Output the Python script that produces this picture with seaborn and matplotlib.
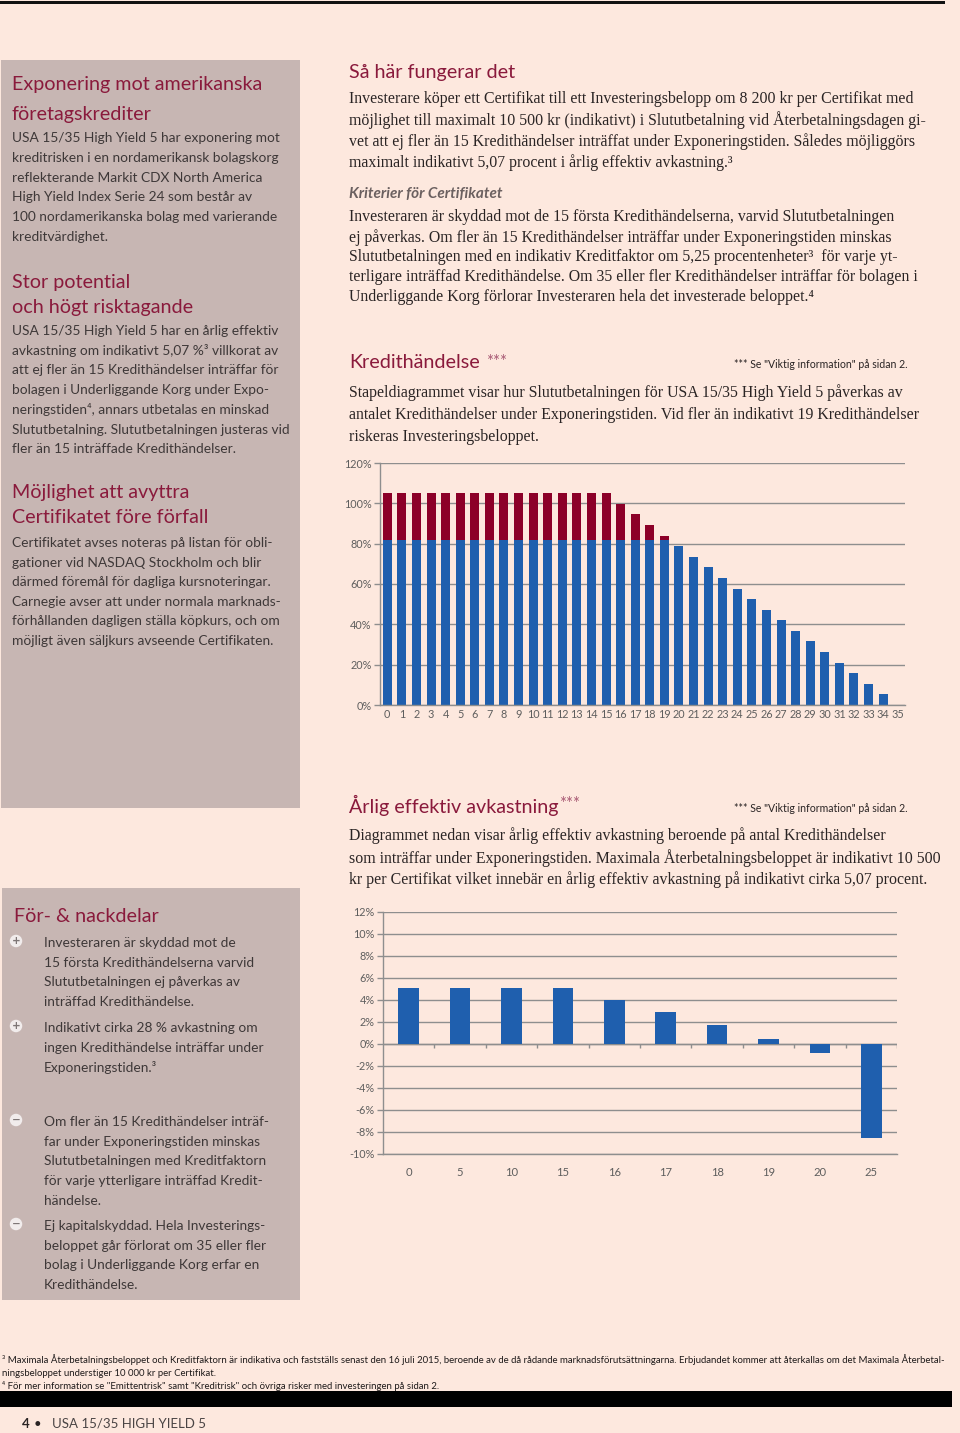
import numpy as np
import pandas as pd
import matplotlib
matplotlib.use("Agg")
import matplotlib.pyplot as plt
import seaborn as sns
from matplotlib.patches import Rectangle

# ---------------- data ----------------
events = ["0", "1", "2", "3", "4", "5", "6", "7", "8", "9", "10", "11", "12",
          "13", "14", "15", "16", "17", "18", "19", "20", "21", "22", "23", "24",
          "25", "26", "27", "28", "29", "30", "31", "32", "33", "34", "35"]
invested_part = [82, 82, 82, 82, 82, 82, 82, 82, 82, 82, 82, 82, 82, 82, 82, 82,
                 82, 82, 82, 82, 78.75, 73.5, 68.25, 63, 57.75, 52.5, 47.25, 42,
                 36.75, 31.5, 26.25, 21, 15.75, 10.5, 5.25, 0]
return_part = [23, 23, 23, 23, 23, 23, 23, 23, 23, 23, 23, 23, 23, 23, 23, 23,
               17.75, 12.5, 7.25, 2, 0, 0, 0, 0, 0, 0, 0, 0, 0, 0, 0, 0, 0, 0, 0, 0]
y1_ticks = [0, 20, 40, 60, 80, 100, 120]

ret_events = ["0", "5", "10", "15", "16", "17", "18", "19", "20", "25"]
annual_return = [5.07, 5.07, 5.07, 5.07, 4.0, 2.9, 1.75, 0.5, -0.8, -8.5]
y2_ticks = [-10, -8, -6, -4, -2, 0, 2, 4, 6, 8, 10, 12]

# ---------------- style ----------------
W, H = 960, 1433
BG = "#FDE8DE"
PANEL = "#C7B6B3"
HEAD = "#8A1A3C"
BLUE = "#1F5FAE"
RED = "#8C0028"
GRID = "#8E8E8E"
TICK = "#5E5E5E"
LTXT = "#3E3838"
RTXT = "#2A2424"

sns.set_style("white")
plt.rcParams["font.family"] = ["Lato", "DejaVu Sans"]

fig = plt.figure(figsize=(W / 100, H / 100), dpi=100, facecolor=BG)
renderer = fig.canvas.get_renderer()

def fx(x):
    return x / W

def fy(y):
    return 1 - y / H

def T(x, y, s, size=10, color=LTXT, family=None, **kw):
    fam = family if family is not None else ["Lato", "DejaVu Sans"]
    return fig.text(fx(x), fy(y), s, fontsize=size, color=color, family=fam,
                    va="center_baseline", ha=kw.pop("ha", "left"), **kw)

def box(x0, y0, x1, y1, color):
    fig.patches.append(Rectangle((fx(x0), fy(y1)), fx(x1 - x0), (y1 - y0) / H,
                                 transform=fig.transFigure, facecolor=color,
                                 edgecolor="none", zorder=0))

def right_px(t):
    return t.get_window_extent(renderer=renderer).x1

# top rule, panels, footer bar
box(0, 1, 945, 4, "#111111")
box(1, 60, 300, 808, PANEL)
box(2, 888, 300, 1300, PANEL)
box(0, 1391, 952, 1407, "#000000")

# ---------------- left column text ----------------
HS = 14.2
BS = 9.9
def lines(x, y0, step, rows, size=BS, color=LTXT, family=None, **kw):
    for i, r in enumerate(rows):
        T(x, y0 + i * step, r, size=size, color=color, family=family, **kw)

lines(12, 83, 30, ["Exponering mot amerikanska", "företagskrediter"], size=HS, color=HEAD)
lines(12, 137, 19.8, ["USA 15/35 High Yield 5 har exponering mot",
                      "kreditrisken i en nordamerikansk bolagskorg",
                      "reflekterande Markit CDX North America",
                      "High Yield Index Serie 24 som består av",
                      "100 nordamerikanska bolag med varierande",
                      "kreditvärdighet."])
lines(12, 281, 25, ["Stor potential", "och högt risktagande"], size=HS, color=HEAD)
lines(12, 330, 19.7, ["USA 15/35 High Yield 5 har en årlig effektiv",
                      "avkastning om indikativt 5,07 %³ villkorat av",
                      "att ej fler än 15 Kredithändelser inträffar för",
                      "bolagen i Underliggande Korg under Expo-",
                      "neringstiden⁴, annars utbetalas en minskad",
                      "Slututbetalning. Slututbetalningen justeras vid",
                      "fler än 15 inträffade Kredithändelser."])
lines(12, 491, 25, ["Möjlighet att avyttra", "Certifikatet före förfall"], size=HS, color=HEAD)
lines(12, 542, 19.6, ["Certifikatet avses noteras på listan för obli-",
                      "gationer vid NASDAQ Stockholm och blir",
                      "därmed föremål för dagliga kursnoteringar.",
                      "Carnegie avser att under normala marknads-",
                      "förhållanden dagligen ställa köpkurs, och om",
                      "möjligt även säljkurs avseende Certifikaten."])

T(14, 915, "För- & nackdelar", size=HS, color=HEAD)
bullets = [
    ("+", 942, ["Investeraren är skyddad mot de",
                "15 första Kredithändelserna varvid",
                "Slututbetalningen ej påverkas av",
                "inträffad Kredithändelse."]),
    ("+", 1027, ["Indikativt cirka 28 % avkastning om",
                 "ingen Kredithändelse inträffar under",
                 "Exponeringstiden.³"]),
    ("−", 1121, ["Om fler än 15 Kredithändelser inträf-",
                 "far under Exponeringstiden minskas",
                 "Slututbetalningen med Kreditfaktorn",
                 "för varje ytterligare inträffad Kredit-",
                 "händelse."]),
    ("−", 1225, ["Ej kapitalskyddad. Hela Investerings-",
                 "beloppet går förlorat om 35 eller fler",
                 "bolag i Underliggande Korg erfar en",
                 "Kredithändelse."]),
]
for sym, y0, rows in bullets:
    fig.text(fx(16), fy(y0 - 1), sym, fontsize=7.5, fontweight="bold", color="#7E7676",
             ha="center", va="center", family=["DejaVu Sans"],
             bbox=dict(boxstyle="circle,pad=0.12", fc="#F1ECEC", ec="none"))
    lines(44, y0, 19.7, rows)

# ---------------- right column text ----------------
SER = ["Liberation Serif", "DejaVu Serif"]
RS = 11.4
lines(349, 71, 0, ["Så här fungerar det"], size=HS, color=HEAD)
lines(349, 97, 21.3, ["Investerare köper ett Certifikat till ett Investeringsbelopp om 8 200 kr per Certifikat med",
                      "möjlighet till maximalt 10 500 kr (indikativt) i Slututbetalning vid Återbetalningsdagen gi-",
                      "vet att ej fler än 15 Kredithändelser inträffat under Exponeringstiden. Således möjliggörs",
                      "maximalt indikativt 5,07 procent i årlig effektiv avkastning.³"],
      size=RS, color=RTXT, family=SER)
T(349, 193, "Kriterier för Certifikatet", size=11, color="#6B6060",
  fontweight="bold", fontstyle="italic")
lines(349, 215, 20.1, ["Investeraren är skyddad mot de 15 första Kredithändelserna, varvid Slututbetalningen",
                       "ej påverkas. Om fler än 15 Kredithändelser inträffar under Exponeringstiden minskas",
                       "Slututbetalningen med en indikativ Kreditfaktor om 5,25 procentenheter³  för varje yt-",
                       "terligare inträffad Kredithändelse. Om 35 eller fler Kredithändelser inträffar för bolagen i",
                       "Underliggande Korg förlorar Investeraren hela det investerade beloppet.⁴"],
      size=RS, color=RTXT, family=SER)

NOTE = "*** Se \"Viktig information\" på sidan 2."
h1 = T(349, 361, "Kredithändelse", size=HS, color=HEAD)
T(right_px(h1) + 6, 360, "***", size=12, color="#A85A74")
T(734, 364, NOTE, size=7.6, color="#2A2424")
lines(349, 391, 22, ["Stapeldiagrammet visar hur Slututbetalningen för USA 15/35 High Yield 5 påverkas av",
                     "antalet Kredithändelser under Exponeringstiden. Vid fler än indikativt 19 Kredithändelser",
                     "riskeras Investeringsbeloppet."],
      size=RS, color=RTXT, family=SER)

h2 = T(349, 804, "Årlig effektiv avkastning", size=HS, color=HEAD)
T(right_px(h2) + 1, 803, "***", size=12, color="#A85A74")
T(734, 807, NOTE, size=7.6, color="#2A2424")
lines(349, 834, 22, ["Diagrammet nedan visar årlig effektiv avkastning beroende på antal Kredithändelser",
                     "som inträffar under Exponeringstiden. Maximala Återbetalningsbeloppet är indikativt 10 500",
                     "kr per Certifikat vilket innebär en årlig effektiv avkastning på indikativt cirka 5,07 procent."],
      size=RS, color=RTXT, family=SER)

# ---------------- chart 1: stacked payout ----------------
LS = 7.8
ax1 = fig.add_axes([fx(380), fy(705), (905 - 380) / W, (705 - 463) / H])
ax1.set_facecolor("none")
total = [a + b for a, b in zip(invested_part, return_part)]
sns.barplot(x=events, y=total, order=events, color=RED, saturation=1, width=0.62,
            linewidth=0, ax=ax1)
sns.barplot(x=events, y=invested_part, order=events, color=BLUE, saturation=1,
            width=0.62, linewidth=0, ax=ax1)
ax1.set_xlim(-0.5, 35.5)
ax1.set_ylim(0, 120)
ax1.set_yticks(y1_ticks)
ax1.set_yticklabels([f"{v}%" for v in y1_ticks])
ax1.set_axisbelow(True)
ax1.yaxis.grid(True, color=GRID, linewidth=1.0)
ax1.xaxis.grid(False)
for s in ["top", "right"]:
    ax1.spines[s].set_visible(False)
for s in ["left", "bottom"]:
    ax1.spines[s].set_color(GRID)
    ax1.spines[s].set_linewidth(1.0)
ax1.set_xticks(np.arange(len(events)) + 0.5, minor=True)
ax1.tick_params(axis="x", which="major", length=0, pad=3, labelsize=LS, labelcolor=TICK)
ax1.tick_params(axis="x", which="minor", length=3.5, color=GRID, width=1)
ax1.tick_params(axis="y", length=4, color=GRID, width=1, pad=2, labelsize=LS,
                labelcolor=TICK, left=True)
ax1.set_xlabel("")
ax1.set_ylabel("")

# ---------------- chart 2: annual return ----------------
ax2 = fig.add_axes([fx(383), fy(1154), (897 - 383) / W, (1154 - 912) / H])
ax2.set_facecolor("none")
sns.barplot(x=ret_events, y=annual_return, order=ret_events, color=BLUE, saturation=1,
            width=0.4, linewidth=0, ax=ax2)
ax2.set_xlim(-0.5, 9.5)
ax2.set_ylim(-10, 12)
ax2.set_yticks(y2_ticks)
ax2.set_yticklabels([f"{v}%" for v in y2_ticks])
ax2.set_axisbelow(True)
ax2.yaxis.grid(True, color=GRID, linewidth=1.0)
ax2.xaxis.grid(False)
for s in ["top", "right"]:
    ax2.spines[s].set_visible(False)
for s in ["left", "bottom"]:
    ax2.spines[s].set_color(GRID)
    ax2.spines[s].set_linewidth(1.0)
ax2.vlines(np.arange(len(ret_events)) + 0.5, -0.35, 0, color=GRID, linewidth=1)
ax2.axhline(0, color=GRID, linewidth=1, zorder=0.5)
ax2.tick_params(axis="x", length=0, pad=9, labelsize=LS + 0.3, labelcolor=TICK)
ax2.tick_params(axis="y", length=4, color=GRID, width=1, pad=2, labelsize=LS,
                labelcolor=TICK, left=True)
ax2.set_xlabel("")
ax2.set_ylabel("")

# ---------------- footnotes & footer ----------------
FN = 6.95
T(2, 1359, "³ Maximala Återbetalningsbeloppet och Kreditfaktorn är indikativa och fastställs senast den 16 juli 2015, "
  "beroende av de då rådande marknadsförutsättningarna. Erbjudandet kommer att återkallas om det Maximala Återbetal-",
  size=FN, color="#1E1A1A")
T(2, 1372, "ningsbeloppet understiger 10 000 kr per Certifikat.", size=FN, color="#1E1A1A")
T(2, 1385, "⁴ För mer information se \"Emittentrisk\" samt \"Kreditrisk\" och övriga risker med investeringen på sidan 2.",
  size=FN, color="#1E1A1A")
T(22, 1423, "4", size=9.5, color="#2A2424", fontweight="bold")
T(34, 1423, "•", size=9.5, color="#2A2424")
T(52, 1423, "USA 15/35 HIGH YIELD 5", size=9.5, color="#4A4444")

fig.savefig("out.png", dpi=100, facecolor=BG)
